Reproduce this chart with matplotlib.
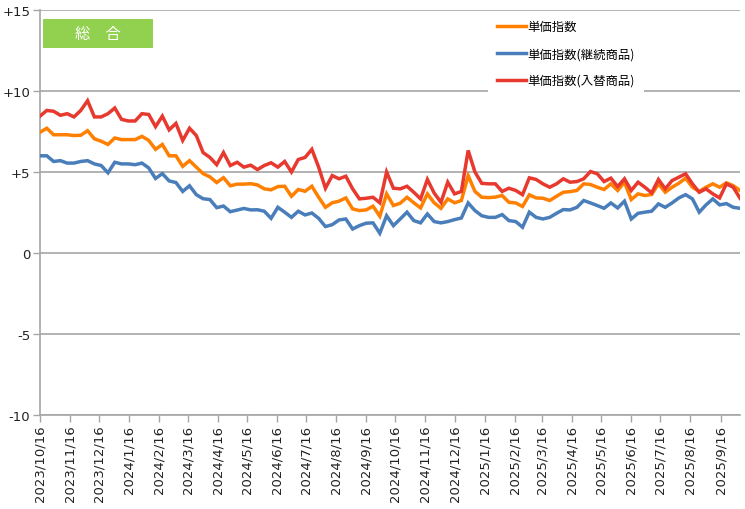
import matplotlib
matplotlib.use("Agg")
import matplotlib.pyplot as plt
import pandas as pd
from matplotlib.patches import Rectangle

plt.rcParams['font.family'] = ['DejaVu Sans', 'Noto Sans CJK JP']

start_date = "2023-10-16"
n_weeks = 104

unit_price = [7.45, 7.7, 7.3, 7.3, 7.3, 7.25, 7.27, 7.55, 7.05, 6.9, 6.7, 7.1, 7.0, 7.0, 7.0, 7.2, 6.95, 6.4, 6.7, 6.0,
              6.0, 5.35, 5.7, 5.3, 4.9, 4.7, 4.35, 4.65, 4.15, 4.25, 4.25, 4.28, 4.2, 3.96, 3.9, 4.1, 4.12, 3.5, 3.92, 3.81,
              4.12, 3.44, 2.82, 3.1, 3.2, 3.4, 2.72, 2.62, 2.66, 2.89, 2.27, 3.65, 2.93, 3.07, 3.44, 3.1, 2.78, 3.65, 3.1, 2.76,
              3.34, 3.1, 3.24, 4.78, 3.8, 3.44, 3.42, 3.45, 3.55, 3.13, 3.09, 2.87, 3.59, 3.4, 3.38, 3.24, 3.5, 3.75, 3.79, 3.86,
              4.27, 4.23, 4.06, 3.92, 4.27, 3.86, 4.37, 3.3, 3.65, 3.55, 3.61, 4.27, 3.75, 4.06, 4.31, 4.62, 4.06, 3.8, 4.06, 4.27,
              4.06, 4.33, 4.16, 3.86]

unit_price_cont = [6.0, 6.0, 5.65, 5.7, 5.55, 5.55, 5.65, 5.7, 5.5, 5.4, 4.95, 5.6, 5.5, 5.5, 5.45, 5.55, 5.25, 4.6, 4.9, 4.45,
                   4.35, 3.8, 4.15, 3.6, 3.35, 3.3, 2.8, 2.9, 2.55, 2.65, 2.75, 2.66, 2.67, 2.58, 2.14, 2.82, 2.52, 2.2, 2.58, 2.35,
                   2.47, 2.14, 1.63, 1.75, 2.04, 2.1, 1.48, 1.69, 1.84, 1.86, 1.22, 2.3, 1.69, 2.1, 2.52, 2.0, 1.86, 2.41, 1.94, 1.86,
                   1.94, 2.06, 2.16, 3.09, 2.62, 2.3, 2.2, 2.2, 2.37, 2.0, 1.94, 1.59, 2.52, 2.2, 2.1, 2.2, 2.45, 2.68, 2.66, 2.82,
                   3.24, 3.09, 2.93, 2.76, 3.09, 2.78, 3.2, 2.1, 2.45, 2.52, 2.58, 3.03, 2.82, 3.09, 3.4, 3.6, 3.34, 2.52, 2.97, 3.34,
                   2.97, 3.05, 2.82, 2.76]

unit_price_repl = [8.45, 8.8, 8.75, 8.5, 8.6, 8.4, 8.8, 9.4, 8.4, 8.4, 8.6, 8.95, 8.25, 8.15, 8.15, 8.6, 8.55, 7.8, 8.45, 7.6,
                   8.0, 6.95, 7.7, 7.25, 6.2, 5.9, 5.45, 6.2, 5.4, 5.6, 5.3, 5.42, 5.15, 5.4, 5.57, 5.3, 5.65, 5.0, 5.77, 5.9,
                   6.4, 5.3, 4.0, 4.78, 4.58, 4.74, 3.96, 3.34, 3.38, 3.44, 3.1, 5.0, 4.0, 3.96, 4.12, 3.75, 3.34, 4.54, 3.7, 3.13,
                   4.37, 3.65, 3.8, 6.33, 5.0, 4.3, 4.27, 4.27, 3.8, 4.0, 3.86, 3.6, 4.64, 4.54, 4.27, 4.06, 4.27, 4.58, 4.37, 4.41,
                   4.58, 5.03, 4.89, 4.41, 4.62, 4.1, 4.58, 3.86, 4.37, 4.06, 3.71, 4.54, 3.96, 4.47, 4.68, 4.89, 4.27, 3.75, 3.96, 3.65,
                   3.4, 4.27, 4.06, 3.38]

series_names = ["単価指数", "単価指数(継続商品)", "単価指数(入替商品)"]
series_colors = ["#FF8000", "#4A7EBB", "#E8392F"]

tick_labels = ["2023/10/16", "2023/11/16", "2023/12/16", "2024/1/16", "2024/2/16", "2024/3/16", "2024/4/16",
               "2024/5/16", "2024/6/16", "2024/7/16", "2024/8/16", "2024/9/16", "2024/10/16", "2024/11/16",
               "2024/12/16", "2025/1/16", "2025/2/16", "2025/3/16", "2025/4/16", "2025/5/16", "2025/6/16",
               "2025/7/16", "2025/8/16", "2025/9/16"]
y_ticks = [-10, -5, 0, 5, 10, 15]
y_tick_labels = ["-10", "-5", "0", "+5", "+10", "+15"]
title_text = "総\u3000合"

dates = pd.date_range(start_date, periods=n_weeks, freq="7D")
tick_dates = pd.to_datetime(tick_labels, format="%Y/%m/%d")

fig = plt.figure(figsize=(7.45, 5.10), dpi=100)
ax = fig.add_axes([40 / 745, 1 - 416 / 510, 700 / 745, 405 / 510])

for vals, name, col in zip([unit_price, unit_price_cont, unit_price_repl], series_names, series_colors):
    ax.plot(dates, vals, color=col, lw=2.5, label=name, solid_joinstyle="miter", zorder=3)

ax.set_xlim(dates[0], dates[-1])
ax.set_ylim(-10, 15)
ax.set_yticks(y_ticks)
ax.set_yticklabels(y_tick_labels, fontsize=9.5, color="#222222")
ax.set_xticks(tick_dates)
ax.set_xticklabels(tick_labels, rotation=90, fontsize=9.5, color="#222222")
ax.grid(axis="y", color="#A6A6A6", lw=1.2, zorder=1)
for s in ["top", "right"]:
    ax.spines[s].set_visible(False)
for s in ["left", "bottom"]:
    ax.spines[s].set_color("#A6A6A6")
    ax.spines[s].set_linewidth(1.2)
ax.tick_params(axis="both", direction="out", length=5, width=1.0, color="#A6A6A6", pad=2)

leg = ax.legend(loc="upper left", bbox_to_anchor=(488 / 745, 1 - 12 / 510), bbox_transform=fig.transFigure,
                frameon=True, fancybox=False, edgecolor="none", facecolor="white", framealpha=1,
                prop={"family": ["Noto Sans CJK JP", "DejaVu Sans"], "size": 8.9},
                handlelength=2.3, handletextpad=0.15, labelspacing=1.12, borderpad=0.75, borderaxespad=0)
leg.set_zorder(5)

fig.patches.append(Rectangle((43 / 745, 1 - 49 / 510), 110 / 745, 29 / 510, transform=fig.transFigure,
                             facecolor="#92D050", edgecolor="none", zorder=6))
fig.text(98 / 745, 1 - 34.5 / 510, title_text, color="white", fontsize=11, ha="center", va="center",
         family=["Noto Sans CJK JP", "DejaVu Sans"], zorder=7)

fig.savefig("out.png", dpi=100)
